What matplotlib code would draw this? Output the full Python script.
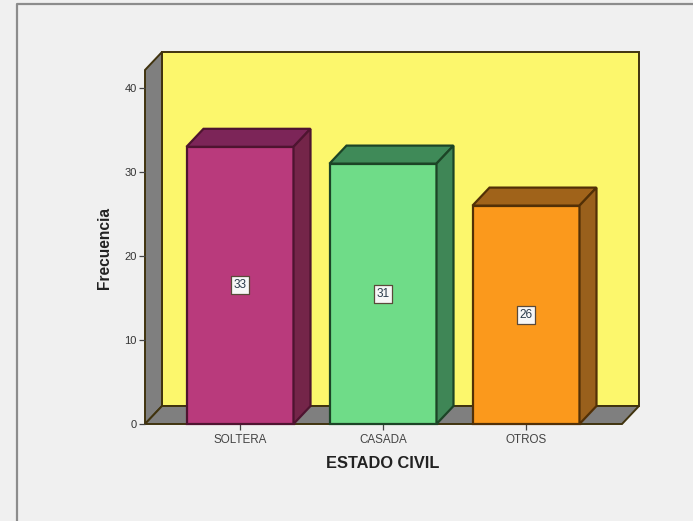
import matplotlib
matplotlib.use("Agg")
import matplotlib.pyplot as plt
from matplotlib.patches import Polygon
from matplotlib.lines import Line2D

plt.rcParams['font.family'] = ['Liberation Sans', 'DejaVu Sans']

# bar chart values
categories = ["SOLTERA", "CASADA", "OTROS"]
frecuencia = [33, 31, 26]
y_ticks = [0, 10, 20, 30, 40]

# front, top and side shades for each bar
front_colors = ["#B93A7C", "#6FDC88", "#FB991C"]
top_colors = ["#7C2558", "#3F8A58", "#A0631A"]
side_colors = ["#742549", "#3F8656", "#99601C"]
edge_colors = ["#4E1430", "#1C4426", "#523006"]

W, H = 693, 521
fig = plt.figure(figsize=(W / 100, H / 100), dpi=100, facecolor="#F0F0F0")

# outer chart frame
fig.add_artist(Line2D([16.5 / W, 16.5 / W, 1], [0, 1 - 3.5 / H, 1 - 3.5 / H],
                      color="#8C8C8C", lw=1.6, transform=fig.transFigure))

# axes spans the front plane of the 3D box
left, right, bottom, top = 145, 622, 424, 70
ax = fig.add_axes([left / W, 1 - bottom / H, (right - left) / W, (bottom - top) / H])
ax.set_xlim((left - 240) / 143, (right - 240) / 143)
ax.set_ylim(0, (bottom - top) / 8.4)
ax.patch.set_visible(False)
for s in ax.spines.values():
    s.set_visible(False)

x0, x1 = ax.get_xlim()
y1 = ax.get_ylim()[1]
dx = 17 / 143   # depth offset in data units
dy = 18 / 8.4
wall_edge = "#40330E"


def poly(pts, color, edge, lw=1.4, z=1):
    ax.add_patch(Polygon(pts, closed=True, facecolor=color, edgecolor=edge,
                         lw=lw, zorder=z, clip_on=False, joinstyle="miter"))


# back wall, left wall, floor
poly([(x0 + dx, dy), (x1 + dx, dy), (x1 + dx, y1 + dy), (x0 + dx, y1 + dy)], "#FCF76C", wall_edge)
poly([(x0, 0), (x0 + dx, dy), (x0 + dx, y1 + dy), (x0, y1)], "#7F7F7F", wall_edge)
poly([(x0, 0), (x1, 0), (x1 + dx, dy), (x0 + dx, dy)], "#7F7F7F", wall_edge)

hw = 107 / 143 / 2
for i, v in enumerate(frecuencia):
    a, b = i - hw, i + hw
    e = edge_colors[i]
    poly([(a, 0), (b, 0), (b, v), (a, v)], front_colors[i], e, 1.6, 3)
    poly([(a, v), (b, v), (b + dx, v + dy), (a + dx, v + dy)], top_colors[i], e, 1.6, 3)
    poly([(b, 0), (b + dx, dy), (b + dx, v + dy), (b, v)], side_colors[i], e, 1.6, 3)
    # square value box at mid height
    ax.scatter([i], [v / 2], marker="s", s=170, facecolor="#F7F7F7", edgecolor="#5A4A3A",
               linewidth=0.9, zorder=5)
    ax.text(i, v / 2, str(v), ha="center", va="center", fontsize=8.5, color="#2A3A4A", zorder=6)

ax.set_xticks(range(len(categories)))
ax.set_xticklabels(categories, fontsize=8.4, color="#444444")
ax.set_yticks(y_ticks)
ax.set_yticklabels([str(t) for t in y_ticks], fontsize=8, color="#333333")
ax.tick_params(axis="both", length=4.5, width=0.9, color="#444444", pad=1.5)
ax.tick_params(axis="x", pad=2.5)
for t in ax.get_xticklines() + ax.get_yticklines():
    t.set_zorder(6)

fig.text(383 / W, 1 - 464 / H, "ESTADO CIVIL", ha="center", va="center",
         fontsize=11.8, fontweight="bold", color="#222222")
fig.text(104.5 / W, 1 - 248 / H, "Frecuencia", ha="center", va="center", rotation=90,
         fontsize=11.2, fontweight="bold", color="#222222")

fig.savefig("out.png", dpi=100, facecolor=fig.get_facecolor())
